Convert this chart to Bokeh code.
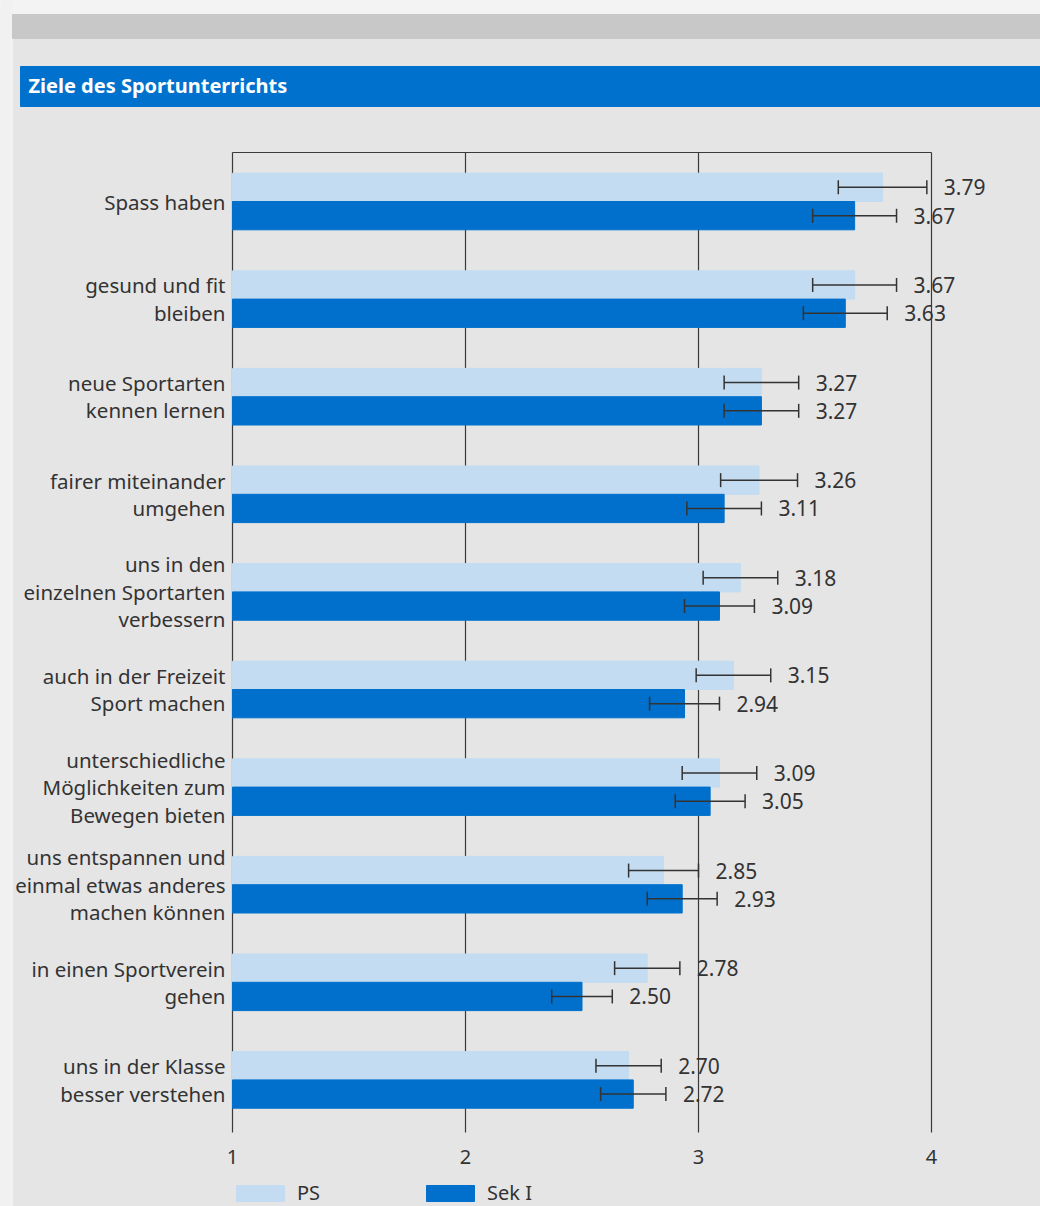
from bokeh.plotting import figure
from bokeh.models import (Range1d, LinearAxis, FixedTicker, ColumnDataSource,
                          Whisker, TeeHead, Legend)
from bokeh.core.properties import value
from bokeh.embed import file_html
from bokeh.resources import INLINE

# ---------------- data ----------------
title = "Ziele des Sportunterrichts"
categories = [
    "Spass haben",
    "gesund und fit\nbleiben",
    "neue Sportarten\nkennen lernen",
    "fairer miteinander\numgehen",
    "uns in den\neinzelnen Sportarten\nverbessern",
    "auch in der Freizeit\nSport machen",
    "unterschiedliche\nMöglichkeiten zum\nBewegen bieten",
    "uns entspannen und\neinmal etwas anderes\nmachen können",
    "in einen Sportverein\ngehen",
    "uns in der Klasse\nbesser verstehen",
]
ps = [3.79, 3.67, 3.27, 3.26, 3.18, 3.15, 3.09, 2.85, 2.78, 2.70]
sek = [3.67, 3.63, 3.27, 3.11, 3.09, 2.94, 3.05, 2.93, 2.50, 2.72]
ps_err = [0.19, 0.18, 0.16, 0.165, 0.16, 0.16, 0.16, 0.15, 0.14, 0.14]
sek_err = [0.18, 0.18, 0.16, 0.16, 0.15, 0.15, 0.15, 0.15, 0.13, 0.14]
series_names = ["PS", "Sek I"]
xticks = [1, 2, 3, 4]

# ---------------- styling / layout ----------------
FONT = "Noto Sans"
BG = "#e5e5e5"
LIGHT = "#c3dcf2"
DARK = "#0070cc"
TITLE_BLUE = "#0072ce"
INK = "#333333"
W, H = 1040, 1206
PX_X1, PX_PER_UNIT = 232.0, 233.0      # px of value 1, px per unit
PX_Y0, PX_PER_CAT = 201.0, 97.6        # px of first category, px per category
BAR_H = 0.29
OFF = 0.145


def xd(px):
    return 1 + (px - PX_X1) / PX_PER_UNIT


def yd(py):
    return (py - PX_Y0) / PX_PER_CAT


p = figure(width=W, height=H, output_backend="svg", toolbar_location=None,
           x_range=Range1d(xd(0), xd(W)), y_range=Range1d(yd(H), yd(0)),
           x_axis_type=None, y_axis_type=None, min_border=0)
p.background_fill_color = BG
p.border_fill_color = BG
p.outline_line_color = None

# page decorations
p.quad(left=[xd(0)], right=[xd(W)], top=[yd(0)], bottom=[yd(14)], color="#f3f3f3")
p.quad(left=[xd(0)], right=[xd(12)], top=[yd(0)], bottom=[yd(H)], color="#f1f1f1")
p.quad(left=[xd(12)], right=[xd(W)], top=[yd(14)], bottom=[yd(38)], color="#c8c8c8")
p.quad(left=[xd(20)], right=[xd(W)], top=[yd(66)], bottom=[yd(106)], color=TITLE_BLUE)
p.text(x=[xd(28)], y=[yd(85)], text=[title], text_color="white",
       text_font=value(FONT), text_font_size="20px", text_font_style="bold",
       text_baseline="middle", text_align="left")

idx = list(range(len(categories)))
y_ps = [i - OFF for i in idx]
y_sek = [i + OFF for i in idx]

# frame: top line and vertical lines
top_y = yd(152)
bot_y = yd(1132)
p.segment(x0=[xticks[0]], x1=[xticks[-1]], y0=[top_y], y1=[top_y],
          line_color="#3a3a3a", line_width=1.2)
p.segment(x0=xticks, x1=xticks, y0=[top_y] * len(xticks), y1=[bot_y] * len(xticks),
          line_color="#3a3a3a", line_width=1.2)

src = ColumnDataSource(dict(
    y_ps=y_ps, y_sek=y_sek, ps=ps, sek=sek,
    ps_lo=[v - e for v, e in zip(ps, ps_err)], ps_hi=[v + e for v, e in zip(ps, ps_err)],
    sek_lo=[v - e for v, e in zip(sek, sek_err)], sek_hi=[v + e for v, e in zip(sek, sek_err)],
    ps_txt=[f"{v:.2f}" for v in ps], sek_txt=[f"{v:.2f}" for v in sek],
))

r_ps = p.hbar(y="y_ps", left=1, right="ps", height=BAR_H, color=LIGHT, source=src)
r_sek = p.hbar(y="y_sek", left=1, right="sek", height=BAR_H, color=DARK, source=src)

for base, lo, hi in (("y_ps", "ps_lo", "ps_hi"), ("y_sek", "sek_lo", "sek_hi")):
    w = Whisker(source=src, base=base, lower=lo, upper=hi, dimension="width",
                line_color=INK, line_width=1.5, level="overlay",
                lower_head=TeeHead(size=14, line_color=INK, line_width=1.5),
                upper_head=TeeHead(size=14, line_color=INK, line_width=1.5))
    p.add_layout(w)

p.text(x="ps_hi", y="y_ps", text="ps_txt", source=src, x_offset=17,
       text_font=value(FONT), text_font_size="21px", text_color=INK,
       text_baseline="middle", text_align="left")
p.text(x="sek_hi", y="y_sek", text="sek_txt", source=src, x_offset=17,
       text_font=value(FONT), text_font_size="21px", text_color=INK,
       text_baseline="middle", text_align="left")

# category labels
p.text(x=[1] * len(categories), y=idx, text=categories, x_offset=-7,
       text_font=value(FONT), text_font_size="20.5px", text_color=INK,
       text_align="right", text_baseline="middle", text_line_height=0.98)

ax = LinearAxis(ticker=FixedTicker(ticks=xticks), fixed_location=yd(1140))
ax.axis_line_color = None
ax.major_tick_line_color = None
ax.minor_tick_line_color = None
ax.major_label_text_font = FONT
ax.major_label_text_font_size = "20px"
ax.major_label_text_color = INK
ax.major_label_standoff = 3
p.add_layout(ax, "below")

legend = Legend(items=[(series_names[0], [r_ps]), (series_names[1], [r_sek])],
                orientation="horizontal", location=(230, 0),
                glyph_width=60, glyph_height=20, label_standoff=7,
                label_width=123, spacing=0, padding=0, margin=0,
                border_line_color=None, background_fill_alpha=0,
                label_text_font=FONT, label_text_font_size="20px",
                label_text_color=INK)
p.add_layout(legend)

open("out.html", "w").write(file_html(p, INLINE))
